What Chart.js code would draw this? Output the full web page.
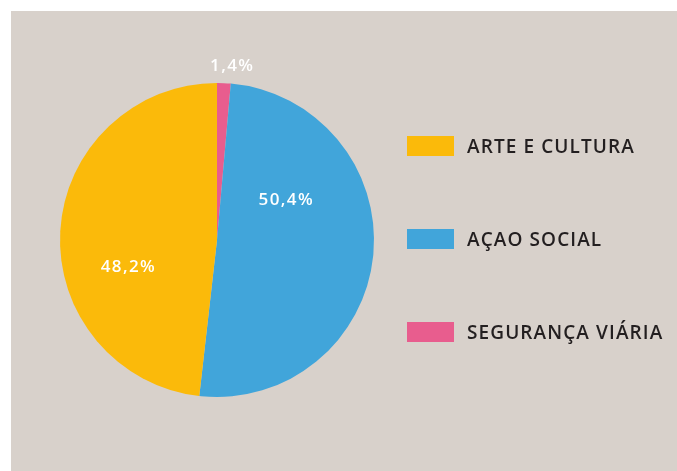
<!DOCTYPE html>
<html>
<head>
<meta charset="utf-8">
<script src="https://cdn.jsdelivr.net/npm/chart.js@4.4.1/dist/chart.umd.min.js"></script>
<style>
  html, body { margin: 0; padding: 0; background: #fff; }
  #panel {
    position: absolute; left: 11px; top: 11px;
    width: 666px; height: 460px;
    background: #d8d1cb;
  }
  #chartBox { position: absolute; left: 0; top: 0; width: 666px; height: 460px; }
  #legend {
    position: absolute; left: 396px; top: 125px;
    margin: 0; padding: 0; list-style: none;
  }
  #legend li {
    display: flex; align-items: center;
    height: 20px; margin-bottom: 73px;
    font: 600 19px "Open Sans", sans-serif;
    letter-spacing: 1.1px;
    color: #231f20;
    white-space: nowrap;
  }
  #legend li span {
    display: inline-block; width: 47px; height: 20px; margin-right: 13px;
  }
</style>
</head>
<body>
<div id="panel">
  <div id="chartBox"><canvas id="pieChart"></canvas></div>
  <ul id="legend"></ul>
</div>
<script>
// drawing order, clockwise from 12 o'clock
const categories = ['SEGURANÇA VIÁRIA', 'AÇAO SOCIAL', 'ARTE E CULTURA'];
const shares     = [1.4, 50.4, 48.2];
const colours    = ['#e85d8e', '#41a5da', '#fbba0a'];

// where each percentage sits: angle clockwise from top (deg), distance as share of radius
const labelAngle  = [5, 60, 253];
const labelRadius = [1.11, 0.51, 0.59];

const fmtPct = v => v.toFixed(1).replace('.', ',') + '%';

/** White percentage labels on / next to each slice. */
const sliceLabels = {
  id: 'sliceLabels',
  afterDatasetsDraw(chart) {
    const ctx = chart.ctx;
    const meta = chart.getDatasetMeta(0);
    ctx.save();
    ctx.font = '600 17px "Open Sans", sans-serif';
    ctx.letterSpacing = '1.4px';
    ctx.fillStyle = '#ffffff';
    ctx.textAlign = 'center';
    ctx.textBaseline = 'middle';
    meta.data.forEach((arc, i) => {
      const a = (labelAngle[i] - 90) * Math.PI / 180;
      const r = arc.outerRadius * labelRadius[i];
      ctx.fillText(fmtPct(shares[i]), arc.x + Math.cos(a) * r, arc.y + Math.sin(a) * r);
    });
    ctx.restore();
  },
};

/** Build the HTML legend from the chart's own legend items (legend order is reversed). */
const htmlLegend = {
  id: 'htmlLegend',
  afterUpdate(chart) {
    const ul = document.getElementById('legend');
    ul.innerHTML = '';
    const items = chart.options.plugins.legend.labels.generateLabels(chart).reverse();
    items.forEach(item => {
      const li = document.createElement('li');
      const box = document.createElement('span');
      box.style.background = item.fillStyle;
      li.appendChild(box);
      li.appendChild(document.createTextNode(item.text));
      ul.appendChild(li);
    });
  },
};

const ctx = document.getElementById('pieChart').getContext('2d');
new Chart(ctx, {
  type: 'pie',
  data: {
    labels: categories,
    datasets: [{
      data: shares,
      backgroundColor: colours,
      borderWidth: 0,
    }],
  },
  options: {
    responsive: true,
    maintainAspectRatio: false,
    animation: false,
    layout: { padding: { left: 49, top: 72, right: 303, bottom: 74 } },
    plugins: {
      legend: { display: false },
      tooltip: { enabled: false },
    },
  },
  plugins: [sliceLabels, htmlLegend],
});
</script>
</body>
</html>
